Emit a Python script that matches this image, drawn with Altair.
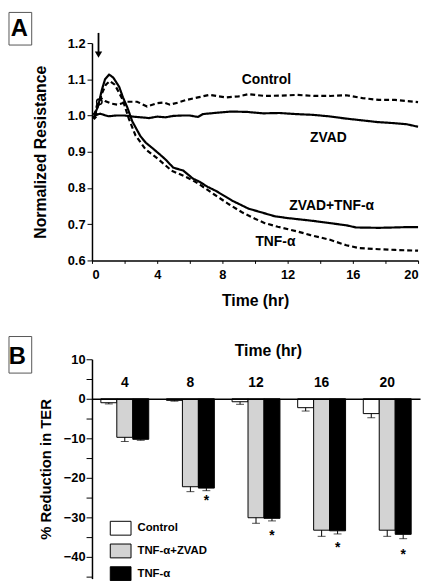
import altair as alt
import pandas as pd

FONT = "Liberation Sans"

# ---------------- Panel A data ----------------
ctrl_t = [0.15, 0.36, 0.56, 0.8, 1.17, 1.57, 2.17, 2.77, 3.38, 3.98, 4.4, 4.78, 5.3, 5.79, 6.5, 7.2, 8.2, 9.0, 9.6, 10.6, 11.6, 12.6, 13.6, 14.6, 15.6, 16.6, 17.6, 18.6, 19.3, 20.0]
ctrl_v = [1.0, 1.038, 1.048, 1.04, 1.033, 1.03, 1.038, 1.038, 1.025, 1.034, 1.036, 1.03, 1.036, 1.043, 1.05, 1.057, 1.05, 1.053, 1.059, 1.054, 1.055, 1.057, 1.054, 1.054, 1.056, 1.048, 1.043, 1.043, 1.04, 1.037]

zvad_t = [0.15, 0.5, 1.0, 1.5, 2.0, 2.5, 3.0, 3.5, 4.0, 4.5, 5.0, 5.5, 6.0, 6.5, 6.8, 7.5, 8.5, 9.5, 10.5, 11.5, 12.5, 13.5, 14.5, 15.5, 16.5, 17.5, 18.5, 19.3, 20.0]
zvad_v = [1.0, 1.005, 0.998, 1.0, 1.0, 0.997, 0.995, 0.993, 0.997, 0.995, 0.999, 1.0, 1.0, 0.996, 1.004, 1.007, 1.011, 1.01, 1.006, 1.007, 1.004, 1.002, 0.998, 0.992, 0.987, 0.982, 0.979, 0.976, 0.969]

zt_t = [0.15, 0.4, 0.6, 0.8, 1.05, 1.3, 1.67, 1.9, 2.17, 2.47, 2.97, 3.3, 3.68, 4.1, 4.48, 4.99, 5.3, 5.6, 6.19, 6.6, 7.1, 7.6, 8.2, 8.6, 9.6, 10.6, 11.2, 12.0, 13.6, 14.6, 15.6, 16.2, 17.6, 18.5, 19.3, 20.0]
zt_v = [1.0, 1.03, 1.07, 1.1, 1.113, 1.105, 1.079, 1.05, 1.022, 0.984, 0.943, 0.925, 0.911, 0.895, 0.88, 0.856, 0.852, 0.848, 0.826, 0.817, 0.803, 0.792, 0.776, 0.765, 0.743, 0.73, 0.722, 0.717, 0.709, 0.703, 0.697, 0.691, 0.69, 0.691, 0.692, 0.692]

tnf_t = [0.15, 0.4, 0.6, 0.85, 1.1, 1.4, 1.87, 2.27, 2.67, 3.28, 4.08, 4.88, 5.69, 6.19, 6.59, 7.5, 8.4, 9.2, 10.0, 10.6, 11.4, 12.6, 13.4, 14.6, 15.6, 16.4, 17.6, 18.6, 20.0]
tnf_v = [1.0, 1.03, 1.06, 1.085, 1.095, 1.085, 1.045, 0.99, 0.945, 0.907, 0.879, 0.848, 0.832, 0.821, 0.81, 0.782, 0.755, 0.733, 0.715, 0.703, 0.693, 0.68, 0.67, 0.657, 0.642, 0.634, 0.631, 0.629, 0.627]

series_names = ["Control", "ZVAD", "ZVAD+TNF-α", "TNF-α"]
series_dash = [[5, 3], [1, 0], [1, 0], [5, 3]]

label_text = ["Control", "ZVAD", "ZVAD+TNF-α", "TNF-α"]
label_t = [10.7, 14.5, 14.7, 11.25]
label_v = [1.097, 0.939, 0.751, 0.650]

arrow_t = [0.40]
arrow_top = [1.228]
arrow_tip = [1.168]

# start-of-recording markers
start_t = [0.15, 0.2]
start_v = [0.995, 1.005]
ring_t = [0.45]
ring_v = [1.038]

y_ticks_A = [0.6, 0.7, 0.8, 0.9, 1.0, 1.1, 1.2]
x_ticks_A = [0, 2, 4, 6, 8, 10, 12, 14, 16, 18, 20]

# ---------------- Panel B data ----------------
times = ["4", "8", "12", "16", "20"]
groups = ["Control", "TNF-α+ZVAD", "TNF-α"]
ctrl_b = [-1.0, -0.4, -0.75, -2.25, -3.75]
ctrl_e = [-1.3, -0.6, -1.4, -3.1, -4.8]
zv_b = [-9.75, -22.25, -30.1, -33.25, -33.25]
zv_e = [-10.8, -23.5, -31.5, -34.8, -34.8]
tn_b = [-10.25, -22.6, -30.25, -33.4, -34.3]
tn_e = [-10.5, -23.25, -30.9, -34.2, -35.4]
star_times = ["8", "12", "16", "20"]
star_y = [-26.0, -34.7, -37.7, -39.5]

y_ticks_B = [-45, -40, -35, -30, -25, -20, -15, -10, -5, 0, 5, 10]

# ---------------- tables ----------------
rows = []
for name, ts, vs in zip(series_names, [ctrl_t, zvad_t, zt_t, tnf_t], [ctrl_v, zvad_v, zt_v, tnf_v]):
    for i, (t, v) in enumerate(zip(ts, vs)):
        rows.append({"series": name, "t": t, "v": v, "o": i})
dfA = pd.DataFrame(rows)
dfLab = pd.DataFrame({"text": label_text, "t": label_t, "v": label_v})
dfArrow = pd.DataFrame({"t": arrow_t, "v": arrow_top, "tip": arrow_tip})
dfHead = pd.DataFrame({"t": arrow_t, "v": arrow_tip})
dfStart = pd.DataFrame({"t": start_t, "v": start_v})
dfRing = pd.DataFrame({"t": ring_t, "v": ring_v})
one = pd.DataFrame({"k": [0]})

rowsB = []
for g, vals, errs in zip(groups, [ctrl_b, zv_b, tn_b], [ctrl_e, zv_e, tn_e]):
    for t, v, e in zip(times, vals, errs):
        rowsB.append({"time": t, "group": g, "value": v, "err": e})
dfB = pd.DataFrame(rowsB)
dfCap = pd.DataFrame({"time": dfB["time"], "group": dfB["group"], "value": dfB["err"]})
dfStar = pd.DataFrame({"time": star_times, "group": ["TNF-α"] * 4, "value": star_y})

# ---------------- Panel A ----------------
WA, HA = 330, 220
xA = alt.X("t:Q", scale=alt.Scale(domain=[0, 20], nice=False),
           axis=alt.Axis(values=x_ticks_A,
                         labelExpr="datum.value % 4 == 0 ? datum.label : ''",
                         labelOverlap=False,
                         title="Time (hr)", tickSize=3, labelPadding=5,
                         titlePadding=12, titleFontSize=16, labelFontSize=13))
yA = alt.Y("v:Q", scale=alt.Scale(domain=[0.6, 1.2], nice=False, zero=False),
           axis=alt.Axis(values=y_ticks_A, format=".1f",
                         labelOverlap=False,
                         title="Normalized Resistance", tickSize=5, labelPadding=2,
                         titlePadding=19, titleFontSize=16, labelFontSize=13))

linesA = alt.Chart(dfA).mark_line(color="black", strokeWidth=2.2, clip=False).encode(
    x=xA, y=yA,
    detail="series:N",
    order="o:Q",
    strokeDash=alt.StrokeDash("series:N", scale=alt.Scale(domain=series_names, range=series_dash), legend=None),
)
labelsA = alt.Chart(dfLab).mark_text(font=FONT, fontSize=14, fontWeight="bold", color="black").encode(
    x=xA, y=yA, text="text:N")
arrowLine = alt.Chart(dfArrow).mark_rule(color="black", strokeWidth=1.8).encode(
    x=xA, y=yA, y2="tip:Q")
arrowHead = alt.Chart(dfHead).mark_point(shape="triangle-down", filled=True, size=55, color="black", opacity=1).encode(
    x=xA, y=yA)
startPts = alt.Chart(dfStart).mark_point(shape="diamond", filled=True, size=30, color="black", opacity=1).encode(
    x=xA, y=yA)
ringPt = alt.Chart(dfRing).mark_point(shape="circle", filled=False, size=30, color="black", strokeWidth=1.5, opacity=1).encode(
    x=xA, y=yA)
boxA = alt.Chart(one).mark_rect(fill="white", stroke="#555", strokeWidth=1).encode(
    x=alt.value(-84), x2=alt.value(-61), y=alt.value(-31), y2=alt.value(2))
letterA = alt.Chart(one).mark_text(text="A", font=FONT, fontSize=24, fontWeight="bold", color="black").encode(
    x=alt.value(-73.5), y=alt.value(-14))

panelA = alt.layer(linesA, labelsA, arrowLine, arrowHead, startPts, ringPt, boxA, letterA).properties(width=WA, height=HA)

# ---------------- Panel B ----------------
WB, HB = 332, 222
xB = alt.X("time:N", sort=times,
           scale=alt.Scale(paddingInner=0.27, paddingOuter=0.135),
           axis=alt.Axis(orient="top", offset=-40, title="Time (hr)", labelAngle=0, ticks=False,
                         labelPadding=9, titlePadding=18, titleFontSize=16, labelFontSize=14,
                         titleX=178, domainWidth=1.5, zindex=1))
yB = alt.Y("value:Q", scale=alt.Scale(domain=[-45.5, 10], nice=False, zero=False),
           axis=alt.Axis(values=y_ticks_B,
                         labelExpr="datum.value % 10 == 0 ? datum.label : ''",
                         labelOverlap=False,
                         title="% Reduction in TER", tickSize=6, labelPadding=1,
                         titlePadding=10, titleFontSize=15, labelFontSize=13))
xoff = alt.XOffset("group:N", sort=groups, scale=alt.Scale(paddingInner=0, paddingOuter=0))

bars = alt.Chart(dfB).mark_bar(stroke="black", strokeWidth=1).encode(
    x=xB, xOffset=xoff, y=yB,
    fill=alt.Fill("group:N", sort=groups,
                  scale=alt.Scale(domain=groups, range=["white", "#d3d3d3", "black"]),
                  legend=alt.Legend(title=None, orient="none", legendX=18, legendY=480,
                                    symbolType="M-1,-0.667H1V0.667H-1Z", symbolSize=441,
                                    symbolStrokeColor="black", symbolStrokeWidth=1,
                                    labelFont=FONT, labelFontSize=11.5, labelFontWeight="bold",
                                    labelOffset=6, rowPadding=2, padding=0)),
)
errRule = alt.Chart(dfB).mark_rule(color="black", strokeWidth=1).encode(
    x=xB, xOffset=xoff, y=yB, y2="err:Q")
errCap = alt.Chart(dfCap).mark_tick(color="black", thickness=1, size=8).encode(
    x=xB, xOffset=xoff, y=yB)
stars = alt.Chart(dfStar).mark_text(text="*", font=FONT, fontSize=14, fontWeight="bold", color="black").encode(
    x=xB, xOffset=xoff, y=yB)
boxB = alt.Chart(one).mark_rect(fill="white", stroke="#555", strokeWidth=1).encode(
    x=alt.value(-84), x2=alt.value(-61), y=alt.value(-23), y2=alt.value(14))
letterB = alt.Chart(one).mark_text(text="B", font=FONT, fontSize=24, fontWeight="bold", color="black").encode(
    x=alt.value(-75.5), y=alt.value(-2))

panelB = alt.layer(bars, errRule, errCap, stars, boxB, letterB).properties(width=WB, height=HB)

chart = alt.vconcat(panelA, panelB, spacing=27).configure(
    padding=0, font=FONT
).configure_view(stroke=None).configure_axis(
    labelFont=FONT, titleFont=FONT, labelFontWeight="bold", titleFontWeight="bold",
    labelColor="black", titleColor="black", domainColor="black", tickColor="black",
    grid=False, domainWidth=1.5, tickWidth=1
)

chart.save("out.html", embed_options={"renderer": "svg", "actions": False})
